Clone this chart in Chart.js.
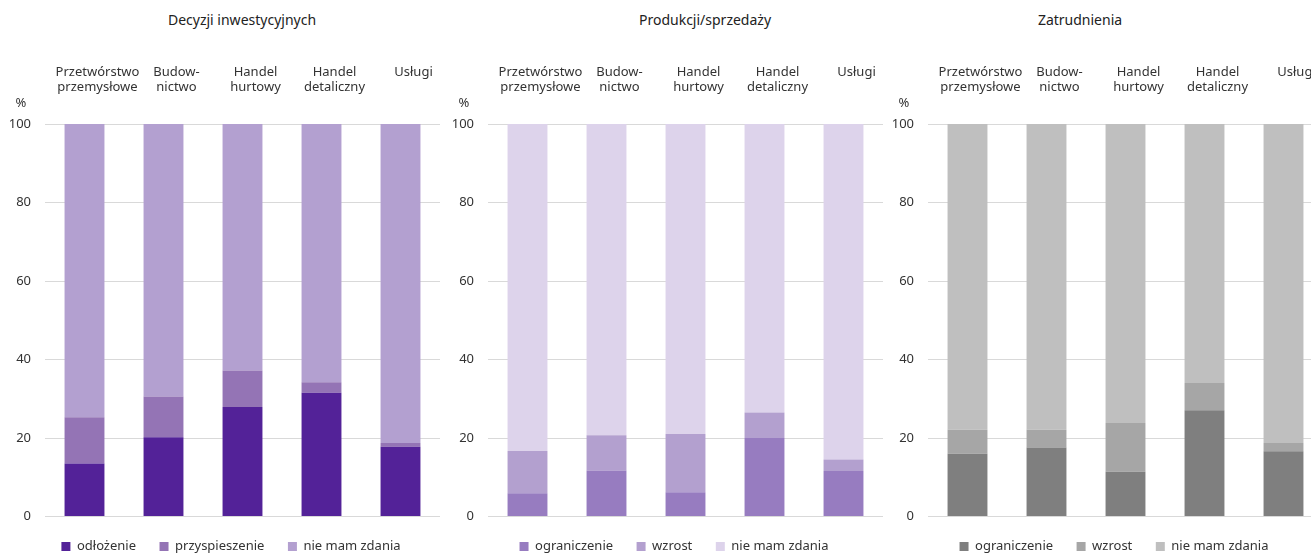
<!DOCTYPE html>
<html>
<head>
<meta charset="utf-8">
<script src="https://cdn.jsdelivr.net/npm/chart.js@4/dist/chart.umd.min.js"></script>
<style>
  body { margin: 0; width: 1311px; height: 554px; overflow: hidden; background: #fff; position: relative; font-family: "Noto Sans", sans-serif; }
  .box { position: absolute; top: 0; width: 440px; height: 563px; }
  .ttl { position: absolute; top: 10px; font-size: 14px; color: #222; transform: translateX(-50%); white-space: nowrap; }
</style>
</head>
<body>
<div class="ttl" style="left:242px">Decyzji inwestycyjnych</div>
<div class="ttl" style="left:705px">Produkcji/sprzedaży</div>
<div class="ttl" style="left:1080px">Zatrudnienia</div>
<div class="box" style="left:0px"><canvas id="c1"></canvas></div>
<div class="box" style="left:443px"><canvas id="c2"></canvas></div>
<div class="box" style="left:883px"><canvas id="c3"></canvas></div>
<script>
  var categories = [["Przetwórstwo","przemysłowe"],["Budow-","nictwo"],["Handel","hurtowy"],["Handel","detaliczny"],["Usługi"]];
  var yTicks = [0, 20, 40, 60, 80, 100];

  // Decyzji inwestycyjnych
  var names1 = ["odłożenie","przyspieszenie","nie mam zdania"];
  var odlozenie = [13.5, 20.2, 27.9, 31.5, 17.8];
  var przyspieszenie = [11.8, 10.4, 9.3, 2.7, 0.9];
  var nieMam1 = [74.7, 69.4, 62.8, 65.8, 81.3];
  var colors1 = ["#532298","#9474b5","#b3a0d0"];

  // Produkcji/sprzedaży
  var names2 = ["ograniczenie","wzrost","nie mam zdania"];
  var ograniczenie2 = [5.9, 11.7, 6.2, 20.0, 11.6];
  var wzrost2 = [10.8, 9.0, 14.8, 6.5, 2.9];
  var nieMam2 = [83.3, 79.3, 79.0, 73.5, 85.5];
  var colors2 = ["#977cc0","#b3a0cf","#ddd3eb"];

  // Zatrudnienia
  var names3 = ["ograniczenie","wzrost","nie mam zdania"];
  var ograniczenie3 = [16.0, 17.6, 11.4, 27.1, 16.6];
  var wzrost3 = [6.1, 4.5, 12.4, 6.9, 2.1];
  var nieMam3 = [77.9, 77.9, 76.2, 66.0, 81.3];
  var colors3 = ["#7f7f7f","#a6a6a6","#bfbfbf"];

  // "%" above the y axis, and legend nudged so it sits a bit left of the plot centre
  var extras = {
    id: "extras",
    beforeDraw: function(chart) {
      if (chart.legend) chart.legend.left = chart.chartArea.left - 23;
    },
    afterDraw: function(chart) {
      var ctx = chart.ctx, a = chart.chartArea;
      ctx.save();
      ctx.font = "13px 'Noto Sans'";
      ctx.fillStyle = "#333";
      ctx.textAlign = "center";
      ctx.textBaseline = "middle";
      ctx.fillText("%", a.left - 24, a.top - 21);
      ctx.restore();
    }
  };

  function makeChart(id, names, series, colors) {
    var datasets = series.map(function(d, i) {
      return { label: names[i], data: d, backgroundColor: colors[i], borderWidth: 0,
               categoryPercentage: 1, barPercentage: 0.505 };
    });
    new Chart(id, {
      type: "bar",
      data: { labels: categories, datasets: datasets },
      plugins: [extras],
      options: {
        responsive: true,
        maintainAspectRatio: false,
        animation: false,
        layout: { padding: { left: 0, top: 50, right: 0, bottom: 0 } },
        plugins: {
          title: { display: false },
          tooltip: { enabled: false },
          legend: {
            position: "bottom",
            labels: { boxWidth: 9, boxHeight: 9, padding: 23.5, color: "#333",
                      font: { family: "Noto Sans", size: 13 } }
          }
        },
        scales: {
          x: {
            stacked: true,
            position: "top",
            grid: { display: false, drawTicks: false },
            border: { display: false },
            afterFit: function(s) { s.height = 74; s.paddingLeft = 0; s.paddingRight = 0; },
            ticks: { color: "#333", padding: 29.5, crossAlign: "far", labelOffset: 13,
                     maxRotation: 0, autoSkip: false,
                     font: { family: "Noto Sans", size: 13, lineHeight: 1.15 } }
          },
          y: {
            stacked: true,
            min: 0, max: 100,
            afterFit: function(s) { s.width = 45; },
            afterBuildTicks: function(s) { s.ticks = yTicks.map(function(v) { return { value: v }; }); },
            grid: { color: "#d9d9d9", drawTicks: false },
            border: { display: false },
            ticks: { color: "#333", padding: 14, font: { family: "Noto Sans", size: 13 } }
          }
        }
      }
    });
  }

  makeChart("c1", names1, [odlozenie, przyspieszenie, nieMam1], colors1);
  makeChart("c2", names2, [ograniczenie2, wzrost2, nieMam2], colors2);
  makeChart("c3", names3, [ograniczenie3, wzrost3, nieMam3], colors3);
</script>
</body>
</html>
